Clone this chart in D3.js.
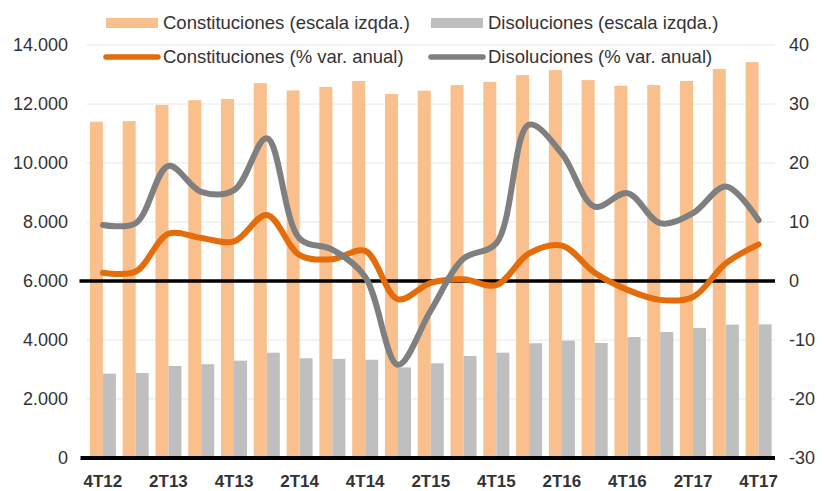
<!DOCTYPE html>
<meta charset="utf-8">
<script src="https://d3js.org/d3.v7.min.js"></script>
<style>
  body { margin: 0; background: #fff; }
  text { font-family: 'Liberation Sans', Arial, sans-serif; fill: #333; }
</style>
<body>
<div id="chart"></div>
<script>

// quarters 4T12 .. 4T17
var quarters = ["4T12","1T13","2T13","3T13","4T13","1T14","2T14","3T14","4T14","1T15","2T15",
                "3T15","4T15","1T16","2T16","3T16","4T16","1T17","2T17","3T17","4T17"];

// bars (left scale)
var constituciones = [11400,11420,11970,12130,12170,12710,12460,12580,12780,12340,12450,
                      12640,12750,12980,13150,12810,12620,12640,12780,13190,13420];
var disoluciones = [2860,2880,3120,3180,3300,3570,3380,3360,3330,3070,3210,
                    3460,3570,3890,3980,3900,4100,4270,4410,4520,4530];

// lines (right scale, % var. anual)
var constVar = [1.4,1.6,8.0,7.3,6.7,11.2,4.4,3.7,5.1,-3.1,-0.3,
                0.3,-0.7,4.7,6.0,1.4,-1.5,-3.2,-2.7,3.0,6.2];
var disolVar = [9.5,9.8,19.5,15.1,15.4,24.2,7.2,5.3,0.7,-14.2,-5.0,
                3.8,6.4,26.5,21.6,12.6,14.9,9.8,11.5,16.0,10.3];

var leftTicks = [0,2000,4000,6000,8000,10000,12000,14000];
var rightTicks = [-30,-20,-10,0,10,20,30,40];
var xLabels = quarters.filter(function(d, i) { return i % 2 === 0; });

var width = 824, height = 491;
var plot = {left: 86.5, right: 775, top: 45, bottom: 458};

var svg = d3.select("#chart").append("svg")
    .attr("width", width)
    .attr("height", height);

var x0 = d3.scaleBand().domain(quarters).range([plot.left, plot.right]).padding(0);
var x1 = d3.scaleBand().domain(["c","d"]).range([0, x0.bandwidth()]).paddingInner(0).paddingOuter(0.26);
var yL = d3.scaleLinear().domain([0,14000]).range([plot.bottom, plot.top]);
var yR = d3.scaleLinear().domain([-30,40]).range([plot.bottom, plot.top]);

var es = d3.formatLocale({decimal: ",", thousands: ".", grouping: [3], currency: ["",""]});
var fmt = es.format(",");

// gridlines
svg.append("g").selectAll("line")
  .data(leftTicks.filter(function(d) { return d !== 0 && d !== 6000; }))
  .enter().append("line")
    .attr("x1", plot.left).attr("x2", plot.right)
    .attr("y1", function(d) { return yL(d); })
    .attr("y2", function(d) { return yL(d); })
    .attr("stroke", "#e8e8e8").attr("stroke-width", 1);

// bars
var data = quarters.map(function(q, i) { return {q: q, c: constituciones[i], d: disoluciones[i]}; });
var colors = {c: "#f9c08e", d: "#bfbfbf"};
var groups = svg.append("g").selectAll("g")
  .data(data).enter().append("g")
    .attr("transform", function(d) { return "translate(" + x0(d.q) + ",0)"; });
groups.selectAll("rect")
  .data(function(d) { return ["c","d"].map(function(k) { return {k: k, v: d[k]}; }); })
  .enter().append("rect")
    .attr("x", function(d) { return x1(d.k); })
    .attr("y", function(d) { return yL(d.v); })
    .attr("width", x1.bandwidth())
    .attr("height", function(d) { return yL(0) - yL(d.v); })
    .attr("fill", function(d) { return colors[d.k]; });

// zero line of right axis
svg.append("line")
  .attr("x1", plot.left - 7).attr("x2", plot.right)
  .attr("y1", yR(0)).attr("y2", yR(0))
  .attr("stroke", "#000").attr("stroke-width", 3.5);

// bottom axis line
svg.append("line")
  .attr("x1", plot.left - 6).attr("x2", plot.right)
  .attr("y1", plot.bottom).attr("y2", plot.bottom)
  .attr("stroke", "#000").attr("stroke-width", 4);

// lines
var cx = function(i) { return x0(quarters[i]) + x0.bandwidth() / 2; };
var line = d3.line()
  .x(function(d, i) { return cx(i); })
  .y(function(d) { return yR(d); })
  .curve(d3.curveCatmullRom.alpha(0.5));

svg.append("path").datum(constVar)
  .attr("d", line).attr("fill", "none")
  .attr("stroke", "#e46c0a").attr("stroke-width", 6).attr("stroke-linecap", "round");
svg.append("path").datum(disolVar)
  .attr("d", line).attr("fill", "none")
  .attr("stroke", "#7f7f7f").attr("stroke-width", 6).attr("stroke-linecap", "round");

// left axis labels
svg.append("g").selectAll("text")
  .data(leftTicks).enter().append("text")
    .attr("x", 68).attr("y", function(d) { return yL(d); })
    .attr("dy", "0.35em").attr("text-anchor", "end")
    .style("font-size", "18px")
    .text(function(d) { return fmt(d); });

// right axis labels
svg.append("g").selectAll("text")
  .data(rightTicks).enter().append("text")
    .attr("x", 789).attr("y", function(d) { return yR(d); })
    .attr("dy", "0.35em").attr("text-anchor", "start")
    .style("font-size", "18px")
    .text(function(d) { return d; });

// x labels
svg.append("g").selectAll("text")
  .data(xLabels).enter().append("text")
    .attr("x", function(d) { return x0(d) + x0.bandwidth() / 2; })
    .attr("y", 486.5).attr("text-anchor", "middle")
    .style("font-size", "17px").style("font-weight", "bold")
    .text(function(d) { return d; });

// legend
var legend = [
  {label: "Constituciones (escala izqda.)", color: "#f9c08e", type: "rect", x: 106, y: 23},
  {label: "Disoluciones (escala izqda.)", color: "#bfbfbf", type: "rect", x: 431, y: 23},
  {label: "Constituciones (% var. anual)", color: "#e46c0a", type: "line", x: 106, y: 57},
  {label: "Disoluciones (% var. anual)", color: "#7f7f7f", type: "line", x: 431, y: 57}
];
legend.forEach(function(l) {
  if (l.type === "rect") {
    svg.append("rect").attr("x", l.x).attr("y", l.y - 5).attr("width", 52).attr("height", 10).attr("fill", l.color);
  } else {
    svg.append("line").attr("x1", l.x).attr("x2", l.x + 52).attr("y1", l.y).attr("y2", l.y)
      .attr("stroke", l.color).attr("stroke-width", 5.5).attr("stroke-linecap", "round");
  }
  svg.append("text").attr("x", l.x + 57).attr("y", l.y).attr("dy", "0.35em")
    .style("font-size", "18.5px").text(l.label);
});

</script>
</body>
